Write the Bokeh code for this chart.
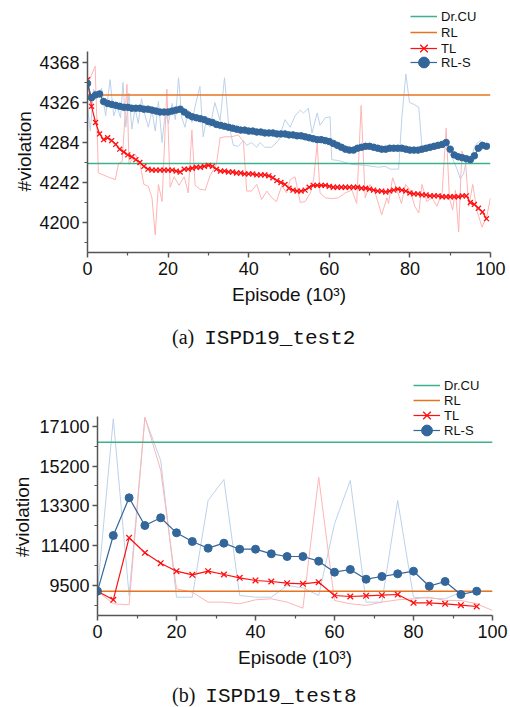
from bokeh.plotting import figure
from bokeh.models import Range1d, FixedTicker, Legend, LegendItem, Div
from bokeh.layouts import column
from bokeh.embed import file_html
from bokeh.resources import INLINE

# ---------------- data: ISPD19_test2 ----------------
t2_drcu = 4262
t2_rl = 4334

t2_ep = list(range(0, 100))
t2_rls = [4346, 4331, 4334, 4335, 4327, 4325, 4324, 4323, 4322, 4321,
          4321, 4320, 4320, 4320, 4319, 4319, 4318, 4317, 4316, 4316,
          4316, 4317, 4318, 4319, 4316, 4313, 4311, 4310, 4309, 4308,
          4306, 4305, 4303, 4302, 4301, 4300, 4299, 4298, 4297, 4297,
          4296, 4296, 4295, 4295, 4294, 4294, 4294, 4293, 4293, 4293,
          4292, 4292, 4291, 4291, 4290, 4289, 4288, 4287, 4287, 4286,
          4285, 4283, 4281, 4279, 4277, 4276, 4276, 4278, 4279, 4280,
          4280, 4279, 4278, 4277, 4277, 4278, 4278, 4278, 4278, 4277,
          4276, 4276, 4276, 4277, 4278, 4279, 4280, 4281, 4282, 4284,
          4277, 4271, 4269, 4268, 4267, 4266, 4270, 4278, 4281, 4280]
t2_tl = [4350, 4322, 4305, 4293, 4287, 4289, 4286, 4282, 4277, 4274,
         4271, 4269, 4266, 4263, 4259, 4256, 4255, 4255, 4255, 4255,
         4255, 4255, 4254, 4253, 4256, 4256, 4257, 4258, 4258, 4259,
         4260, 4259, 4256, 4254, 4254, 4253, 4253, 4252, 4252, 4251,
         4251, 4251, 4250, 4250, 4250, 4249, 4247, 4244, 4242, 4240,
         4236, 4234, 4233, 4233, 4234, 4237, 4239, 4239, 4239, 4239,
         4238, 4237, 4237, 4237, 4237, 4237, 4237, 4237, 4236, 4236,
         4235, 4234, 4233, 4233, 4232, 4233, 4234, 4235, 4234, 4233,
         4231, 4230, 4230, 4229, 4229, 4228, 4228, 4228, 4227, 4227,
         4227, 4227, 4227, 4228, 4228, 4221, 4219, 4215, 4211, 4204]

t2_rls_raw_ep = [0, 0.7, 1.5, 2.5, 3.5, 4.5, 5.6, 6.5, 7.3, 8.2, 8.8, 9.5, 10.3, 11,
                 11.8, 12.6, 13.4, 14.3, 15.1, 16, 16.8, 17.6, 18.5, 19.3, 20.1, 21,
                 21.8, 22.6, 23.4, 24.2, 25, 25.9, 26.7, 27.9, 28.7, 29.6, 30.4, 31.6,
                 32.9, 34, 35, 36.2, 37.4, 38.7, 39.5, 40.7, 42, 42.8, 44, 45.7, 47.4,
                 49, 50.3, 51.5, 52.8, 53.6, 54.8, 55.7, 57, 57.7, 59, 60.2, 60.6,
                 62.3, 65.6, 68.9, 72.2, 73.9, 75.1, 77.2, 78, 79, 79.9, 81, 82.2, 83,
                 86.3, 88.8, 90.4, 91.7, 92.5, 93.3, 94.2, 95, 96.2, 97.5, 98.7, 100]
t2_rls_raw = [4322, 4296, 4340, 4332, 4341, 4312, 4350, 4312, 4322, 4310, 4347, 4300,
              4336, 4298, 4320, 4304, 4330, 4312, 4300, 4318, 4296, 4327, 4284, 4316,
              4304, 4325, 4308, 4352, 4310, 4300, 4318, 4305, 4322, 4343, 4290, 4310,
              4300, 4326, 4307, 4352, 4304, 4281, 4280, 4286, 4281, 4284, 4279, 4284,
              4279, 4279, 4286, 4308, 4300, 4312, 4318, 4315, 4320, 4294, 4315, 4302,
              4310, 4311, 4266, 4265, 4261, 4260, 4258, 4259, 4256, 4256, 4310, 4356,
              4326, 4324, 4321, 4279, 4281, 4279, 4269, 4256, 4246, 4251, 4269, 4265,
              4281, 4286, 4281, 4283]

t2_tl_raw_ep = [0, 1.9, 2.7, 3.9, 5, 6.9, 7.7, 8.6, 9.8, 10.3, 11.8, 13, 14, 15.1, 16,
                16.8, 17.6, 18.5, 19.7, 20.5, 21.5, 22.7, 24, 25, 25.9, 26.7, 27.9,
                29.2, 30.4, 32, 32.9, 34.1, 35.8, 37.4, 38.7, 39.5, 40.7, 42, 43.2,
                44.5, 45.7, 46.9, 48.2, 49.4, 50.3, 51.5, 52.8, 54, 55.3, 56.1, 57,
                57.7, 59, 60.6, 62.3, 63.9, 65.6, 66.8, 67.9, 68.9, 70.1, 71.4, 73,
                74.3, 74.7, 75.7, 76.8, 77.9, 78.9, 80.1, 81.2, 82.2, 83, 84.2, 85.5,
                86.7, 88, 89, 89.8, 90.6, 91.3, 92.1, 92.9, 93.8, 94.6, 95.6, 96.6,
                97.9, 99.1, 100]
t2_tl_raw = [4345, 4364, 4252, 4250, 4248, 4245, 4262, 4264, 4345, 4261, 4272, 4262,
             4240, 4238, 4226, 4187, 4240, 4222, 4340, 4237, 4248, 4239, 4248, 4231,
             4297, 4239, 4235, 4234, 4249, 4261, 4289, 4290, 4290, 4292, 4285, 4233,
             4233, 4240, 4224, 4233, 4226, 4222, 4239, 4231, 4245, 4248, 4221, 4222,
             4231, 4245, 4283, 4231, 4226, 4225, 4226, 4231, 4234, 4220, 4323, 4226,
             4240, 4231, 4208, 4226, 4220, 4247, 4234, 4220, 4240, 4234, 4217, 4210,
             4240, 4222, 4226, 4217, 4231, 4299, 4226, 4213, 4234, 4190, 4275, 4264,
             4217, 4240, 4213, 4195, 4207, 4226]

# ---------------- data: ISPD19_test8 ----------------
t8_drcu = 16340
t8_rl = 9228

t8_ep = [0, 4, 8, 12, 16, 20, 24, 28, 32, 36, 40, 44, 48, 52, 56, 60, 64, 68, 72,
         76, 80, 84, 88, 92, 96]
t8_rls = [9228, 11887, 13686, 12364, 12731, 12015, 11600, 11281, 11520, 11233,
          11233, 11013, 10884, 10884, 10660, 10135, 10264, 9800, 9930, 10058,
          10183, 9467, 9691, 9070, 9228]
t8_tl = [9228, 8817, 11777, 11061, 10566, 10183, 10010, 10183, 10025, 9867,
         9739, 9691, 9610, 9581, 9658, 9023, 8975, 9008, 9037, 9070,
         8674, 8674, 8627, 8560, 8498]

t8_raw_ep = [0, 4, 8, 12, 16, 20, 24, 28, 32, 36, 40, 44, 48, 52, 56, 60, 64, 68,
             72, 76, 80, 84, 88, 92, 96, 100]
t8_rls_raw = [9230, 17457, 9023, 17500, 15466, 8942, 8942, 13557, 14560, 9023,
              8942, 8942, 9500, 9390, 9023, 12445, 14512, 8705, 8705, 13557,
              8942, 8895, 8862, 9181, 9230, 9230]
t8_tl_raw = [9230, 8627, 8580, 17534, 15000, 9340, 9180, 8705, 8705, 8627,
             8817, 8865, 8705, 8417, 14670, 8785, 8627, 8548, 8705, 8817,
             8865, 8942, 8785, 8785, 8627, 8307]

x_ticks = [0, 20, 40, 60, 80, 100]
x_minor = [10, 30, 50, 70, 90]
t2_yticks = [4200, 4242, 4284, 4326, 4368]
t2_yminor = [4179, 4221, 4263, 4305, 4347]
t8_yticks = [9500, 11400, 13300, 15200, 17100]
t8_yminor = [8550, 10450, 12350, 14250, 16150]
series_names = ["Dr.CU", "RL", "TL", "RL-S"]

# ---------------- styling ----------------
SANS = "Liberation Sans"
C_DRCU = "#3cb28a"
C_RL = "#e8731f"
C_TL = "#ff1010"
C_TL_RAW = "#ffb4b4"
C_RLS = "#33669a"
C_RLS_RAW = "#bcd2ea"
NB = "\u00a0"


def build(height, yr, ybounds, yticks, yminor, left, top, bottom, right,
          ylab_standoff, ep, rls, tl, raw_rls_x, raw_rls, raw_tl_x, raw_tl,
          drcu, rl, xsize, csize, leg_x, leg_ys):
    p = figure(width=510, height=height, x_range=Range1d(0, 100),
               y_range=Range1d(*yr), output_backend="svg",
               toolbar_location=None, min_border_left=left,
               min_border_right=right, min_border_top=top,
               min_border_bottom=bottom)
    if "frame_align" in p.properties():
        p.frame_align = False
    p.outline_line_color = None
    p.grid.visible = False
    p.background_fill_color = "white"

    p.xaxis.ticker = FixedTicker(ticks=x_ticks, minor_ticks=x_minor)
    p.yaxis.ticker = FixedTicker(ticks=yticks, minor_ticks=yminor)
    p.yaxis.bounds = ybounds
    p.xaxis.axis_label = "Episode (10³)"
    p.yaxis.axis_label = "#violation" + NB * 9
    for ax in (p.xaxis, p.yaxis):
        ax.axis_line_color = "#555555"
        ax.axis_line_width = 1.5
        ax.major_tick_line_color = "#555555"
        ax.major_tick_line_width = 1.5
        ax.minor_tick_line_color = "#555555"
        ax.minor_tick_line_width = 1.2
        ax.major_tick_in = 0
        ax.major_tick_out = 5
        ax.minor_tick_in = 0
        ax.minor_tick_out = 3
        ax.major_label_text_font = SANS
        ax.major_label_text_font_size = "18px"
        ax.major_label_text_color = "#111111"
        ax.axis_label_text_font = SANS
        ax.axis_label_text_font_size = "19px"
        ax.axis_label_text_font_style = "normal"
        ax.axis_label_text_color = "#111111"
    p.xaxis.major_label_standoff = 4
    p.xaxis.axis_label_standoff = 6
    p.yaxis.major_label_standoff = 3
    p.yaxis.axis_label_standoff = ylab_standoff

    p.line(raw_rls_x, raw_rls, line_color=C_RLS_RAW, line_width=1)
    p.line(raw_tl_x, raw_tl, line_color=C_TL_RAW, line_width=1)
    r_drcu = p.line([0, 100], [drcu, drcu], line_color=C_DRCU, line_width=1.5)
    r_rl = p.line([0, 100], [rl, rl], line_color=C_RL, line_width=1.5)
    r_tl_l = p.line(ep, tl, line_color=C_TL, line_width=1.2)
    r_tl_m = p.scatter(ep, tl, marker="x", size=xsize, line_color=C_TL,
                       line_width=1.3)
    r_rls_l = p.line(ep, rls, line_color=C_RLS, line_width=1.2)
    r_rls_m = p.scatter(ep, rls, marker="circle", size=csize,
                        fill_color=C_RLS, line_color=C_RLS)

    groups = [[r_drcu], [r_rl], [r_tl_l, r_tl_m], [r_rls_l, r_rls_m]]
    # one single-entry legend per series so the entries can sit 15 px apart
    # while keeping a tall glyph box (bigger legend markers)
    for name, rends, ly in zip(series_names, groups, leg_ys):
        leg = Legend(items=[LegendItem(label=name, renderers=rends)],
                     location=(leg_x, ly), orientation="vertical")
        leg.padding = 0
        leg.margin = 0
        leg.spacing = 0
        leg.glyph_height = 30
        leg.glyph_width = 27
        leg.label_height = 30
        leg.label_standoff = 4
        leg.label_text_font = SANS
        leg.label_text_font_size = "13px"
        leg.label_text_color = "#111111"
        leg.background_fill_alpha = 0
        leg.border_line_alpha = 0
        p.add_layout(leg, "center")
    return p


def caption(letter, name, height, line_h):
    html = ('<div style="white-space:nowrap;color:#111;line-height:%dpx">'
            '<span style="font-family:\'Liberation Serif\';font-size:20px">%s'
            '&nbsp;&nbsp;</span>'
            '<span style="font-family:\'Liberation Mono\';font-size:21px">%s'
            '</span></div>') % (line_h, letter, name)
    return Div(text=html, width=330, height=height, margin=(0, 0, 0, 172))


p1 = build(318, (4168.5, 4431.0), (4168.5, 4379.6), t2_yticks, t2_yminor,
           87, 2, 66, 20, 1,
           t2_ep, t2_rls, t2_tl, t2_rls_raw_ep, t2_rls_raw, t2_tl_raw_ep,
           t2_tl_raw, t2_drcu, t2_rl, 7, 6.5, 323, [221, 205, 189, 175])
cap1 = caption("(a)", "ISPD19_test2", 38, 38)
p2 = build(322, (8068, 19762.5), (8068, 17563), t8_yticks, t8_yminor,
           97, 14, 63, 18, 3,
           t8_ep, t8_rls, t8_tl, t8_raw_ep, t8_rls_raw, t8_raw_ep, t8_tl_raw,
           t8_drcu, t8_rl, 8, 8, 316, [215, 200, 185, 170])
cap2 = caption("(b)", "ISPD19_test8", 29, 34)

layout = column(p1, cap1, p2, cap2, spacing=0)
open("out.html", "w").write(file_html(layout, INLINE))
